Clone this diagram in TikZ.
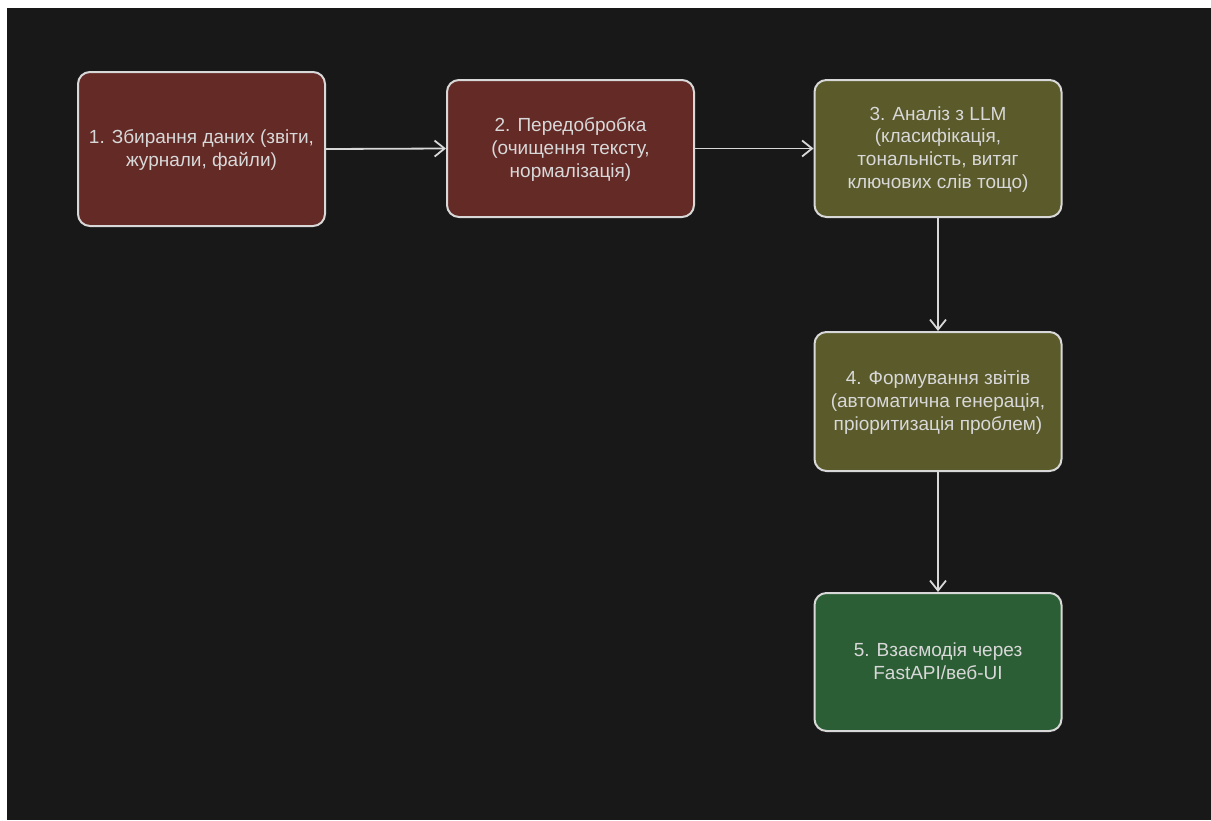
\documentclass[tikz,border=0pt]{standalone}
\usepackage{fontspec}
\setmainfont{Liberation Sans}
\usetikzlibrary{arrows.meta}
\definecolor{bgdark}{HTML}{181818}
\definecolor{redbox}{HTML}{632A26}
\definecolor{olivebox}{HTML}{5A5A2B}
\definecolor{greenbox}{HTML}{2B5E35}
\definecolor{edgecol}{HTML}{D8D8D8}
\begin{document}
\begin{tikzpicture}[x=1pt,y=-1pt,
  stepbox/.style={draw=edgecol, line width=2pt, rounded corners=12pt, minimum width=247pt, minimum height=138pt, align=center, text=edgecol, font=\fontsize{19}{22.8}\selectfont, inner sep=0pt, text depth=2pt},
  conn/.style={draw=edgecol, line width=1.8pt, -{Straight Barb[length=10pt,width=16pt,line width=1.8pt]}}]
\useasboundingbox (0,0) rectangle (1211,820);
\fill[white] (0,0) rectangle (1211,820);
\fill[bgdark] (7,8) rectangle (1211,820);
\node[stepbox, fill=redbox, minimum height=154pt] (n1) at (201.5,149) {1. Збирання даних (звіти,\\журнали, файли)};
\node[stepbox, fill=redbox, minimum height=137pt] (n2) at (570.5,148.5) {2. Передобробка\\(очищення тексту,\\нормалізація)};
\node[stepbox, fill=olivebox, minimum height=137pt] (n3) at (938,148.5) {3. Аналіз з LLM\\(класифікація,\\тональність, витяг\\ключових слів тощо)};
\node[stepbox, fill=olivebox, minimum height=139pt] (n4) at (938,401.5) {4. Формування звітів\\(автоматична генерація,\\пріоритизація проблем)};
\node[stepbox, fill=greenbox, minimum height=138pt] (n5) at (938,662) {5. Взаємодія через\\FastAPI/веб-UI};
\draw[conn] (n1.east) -- (n2.west);
\draw[conn] (n2.east) -- (n3.west);
\draw[conn] (n3.south) -- (n4.north);
\draw[conn] (n4.south) -- (n5.north);
\end{tikzpicture}
\end{document}
